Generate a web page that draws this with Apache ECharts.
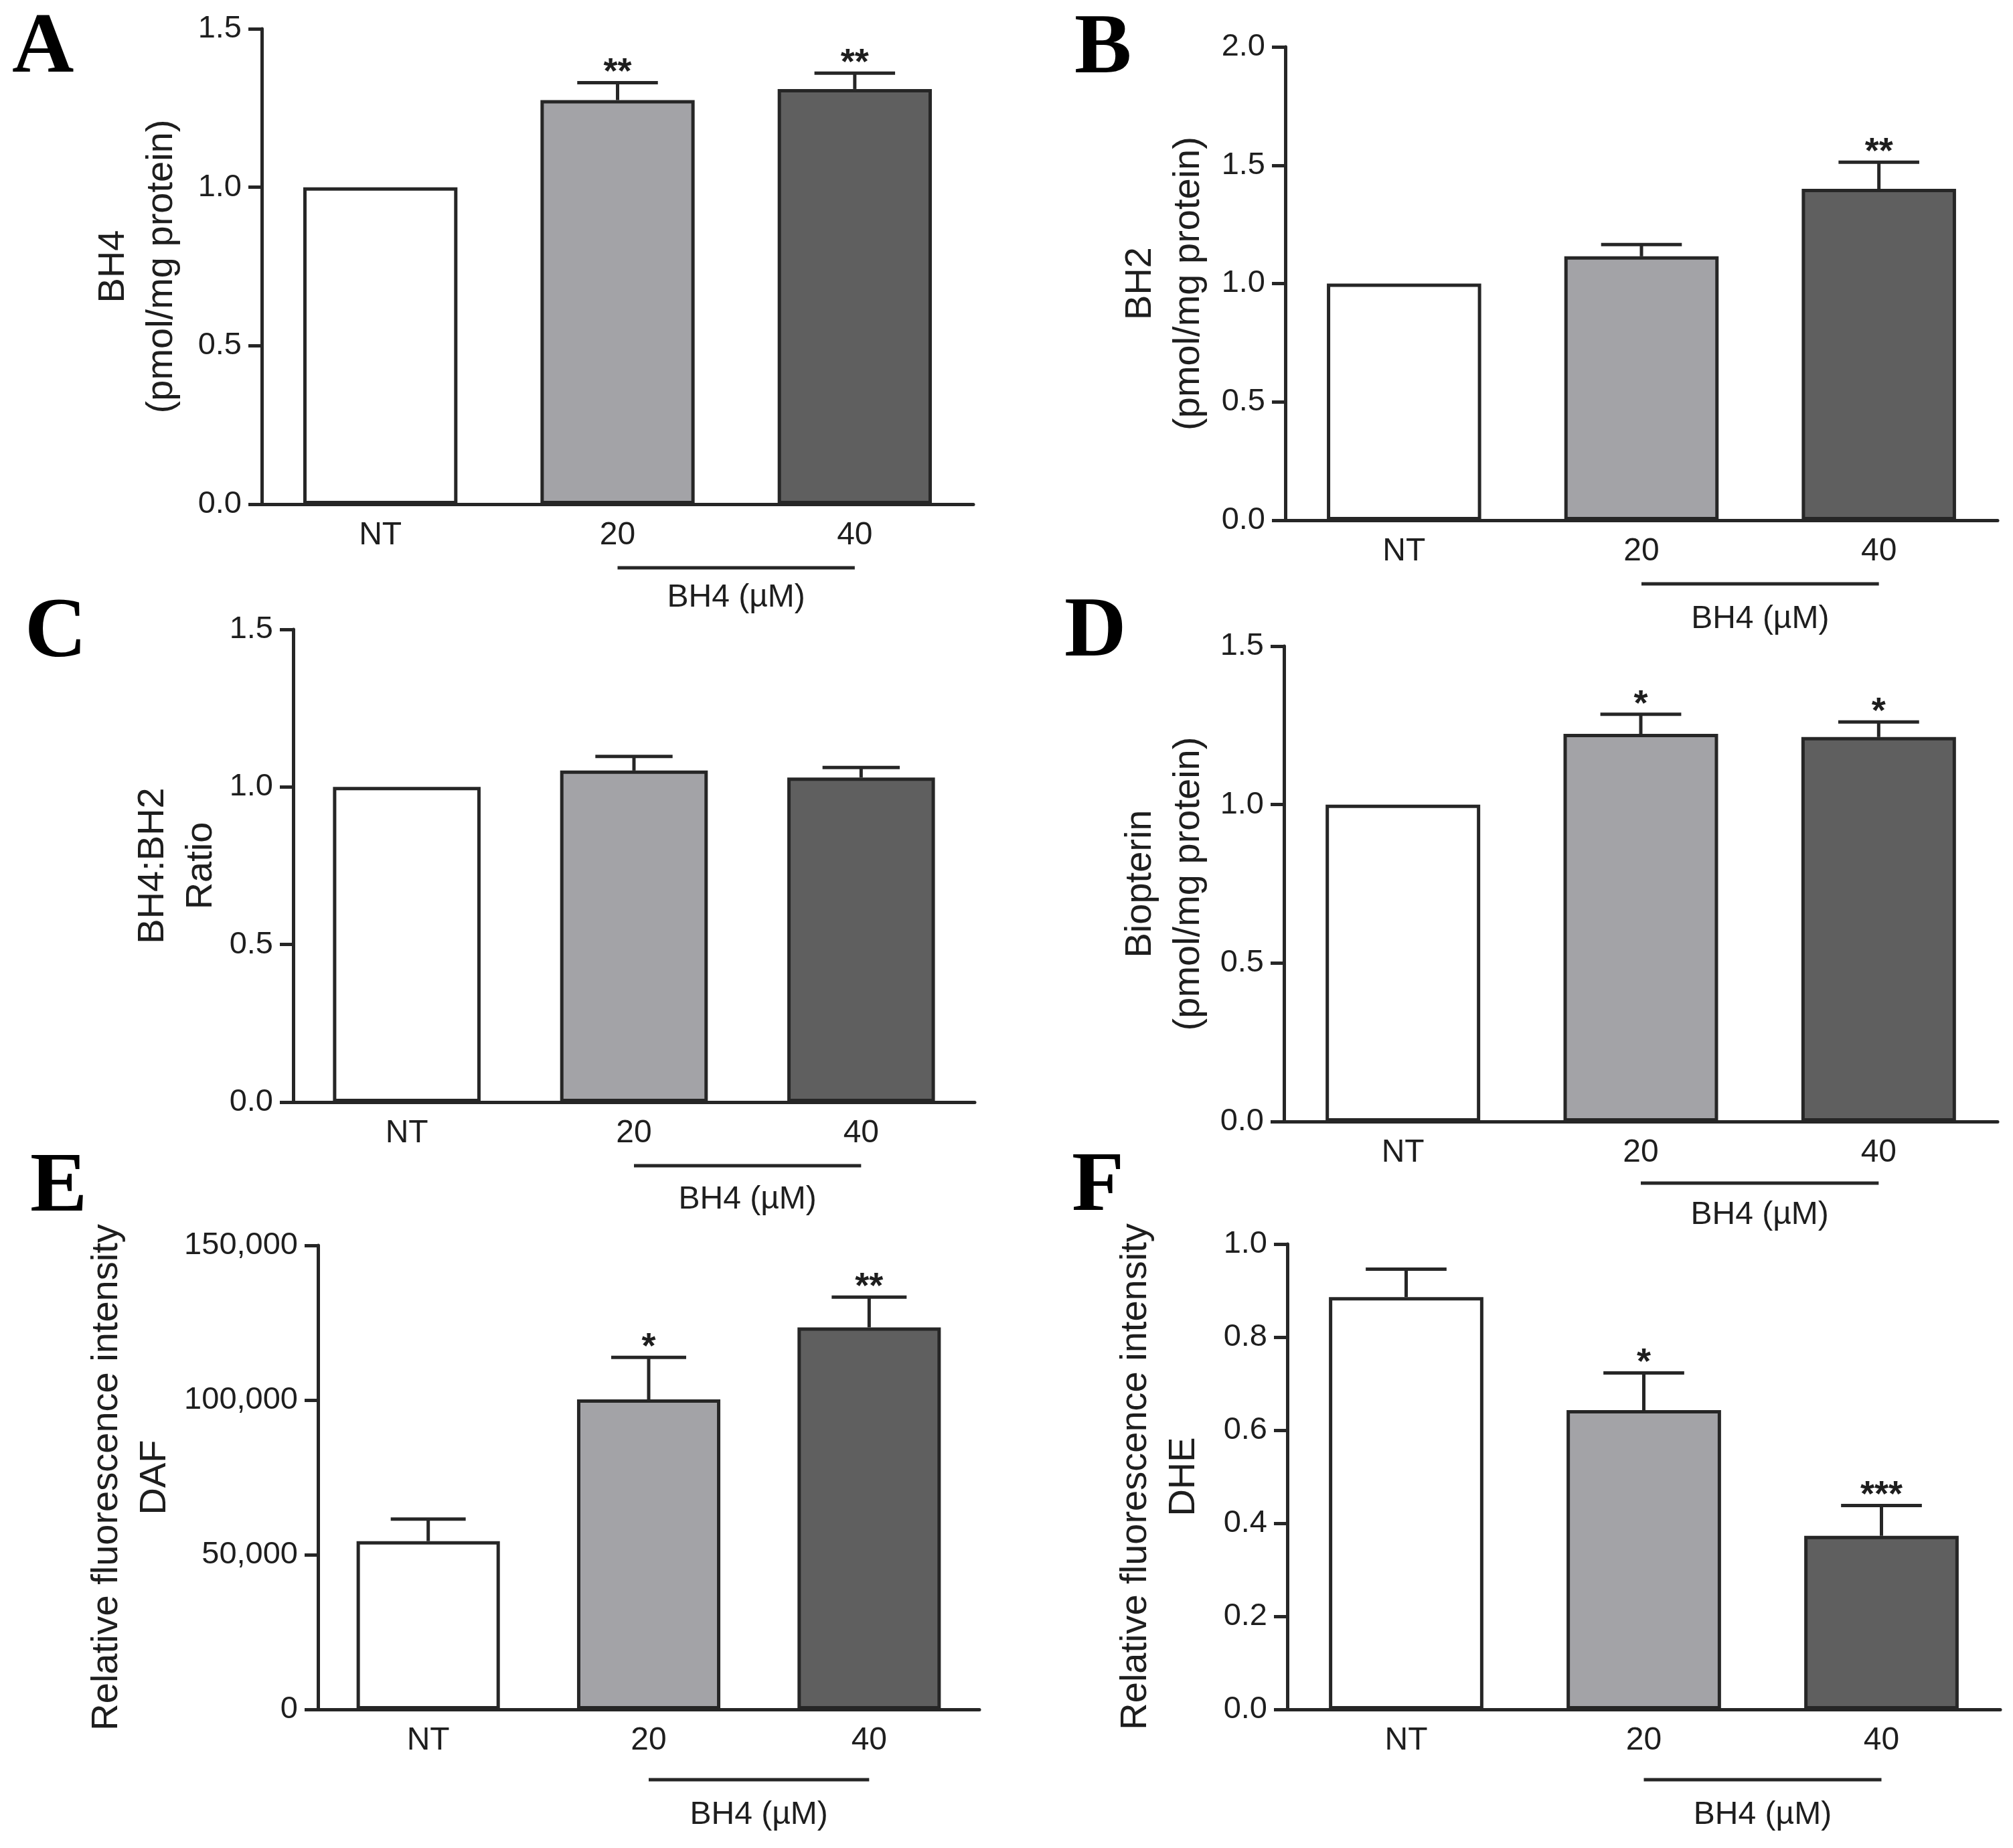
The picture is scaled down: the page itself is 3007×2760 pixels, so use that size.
<!DOCTYPE html>
<html><head><meta charset="utf-8">
<script src="https://cdn.jsdelivr.net/npm/echarts@6/dist/echarts.min.js"></script>
<style>html,body{margin:0;padding:0;background:#fff}#c{width:3007px;height:2760px}</style>
</head><body><div id="c"></div>
<script>
// ---- data ----
const categories = ['NT', '20', '40'];
const treatmentLabel = 'BH4 (µM)';

const bh4Values = [1.00, 1.275, 1.31];
const bh4Errors = [0, 0.055, 0.05];
const bh4Stars = ['', '**', '**'];

const bh2Values = [1.00, 1.115, 1.40];
const bh2Errors = [0, 0.05, 0.113];
const bh2Stars = ['', '', '**'];

const ratioValues = [1.00, 1.052, 1.030];
const ratioErrors = [0, 0.045, 0.032];
const ratioStars = ['', '', ''];

const biopterinValues = [1.00, 1.223, 1.213];
const biopterinErrors = [0, 0.062, 0.048];
const biopterinStars = ['', '*', '*'];

const dafValues = [54400, 100200, 123500];
const dafErrors = [7150, 13600, 9800];
const dafStars = ['', '*', '**'];

const dheValues = [0.886, 0.643, 0.373];
const dheErrors = [0.06, 0.08, 0.065];
const dheStars = ['', '*', '***'];

const barColors = ['#ffffff', '#a3a3a7', '#5f5f5f'];

// ---- layout ----
const FONT = 'Liberation Sans, Arial, sans-serif';
const INK = '#262626';
const TXT = '#1e1e1e';
const fmt1 = v => v.toFixed(1);
const fmtK = v => v.toLocaleString('en-US');

const panels = [
  {letter:'A', values:bh4Values, errors:bh4Errors, stars:bh4Stars, yName:'BH4\n(pmol/mg protein)', yMax:1.5, yInt:0.5, fmt:fmt1,
   grid:{left:391, top:43, width:1063, height:710}, nameGap:113, lx:18, lb:117, under:95, labelOff:140},
  {letter:'B', values:bh2Values, errors:bh2Errors, stars:bh2Stars, yName:'BH2\n(pmol/mg protein)', yMax:2.0, yInt:0.5, fmt:fmt1,
   grid:{left:1920, top:70, width:1064, height:707}, nameGap:108, lx:1605, lb:118, under:95, labelOff:148},
  {letter:'C', values:ratioValues, errors:ratioErrors, stars:ratioStars, yName:'BH4:BH2\nRatio', yMax:1.5, yInt:0.5, fmt:fmt1,
   grid:{left:438, top:940, width:1018, height:706}, nameGap:101, lx:37, lb:990, under:95, labelOff:146},
  {letter:'D', values:biopterinValues, errors:biopterinErrors, stars:biopterinStars, yName:'Biopterin\n(pmol/mg protein)', yMax:1.5, yInt:0.5, fmt:fmt1,
   grid:{left:1918, top:965, width:1066, height:710}, nameGap:106, lx:1590, lb:989, under:92, labelOff:140},
  {letter:'E', values:dafValues, errors:dafErrors, stars:dafStars, yName:'Relative fluorescence intensity\nDAF', yMax:150000, yInt:50000, fmt:fmtK,
   grid:{left:475, top:1860, width:988, height:693}, nameGap:207, lx:45, lb:1818, under:105, labelOff:158},
  {letter:'F', values:dheValues, errors:dheErrors, stars:dheStars, yName:'Relative fluorescence intensity\nDHE', yMax:1.0, yInt:0.2, fmt:fmt1,
   grid:{left:1923, top:1858, width:1065, height:695}, nameGap:118, lx:1601, lb:1817, under:105, labelOff:158}
];

function textStyle(extra){
  return Object.assign({fontFamily:FONT, fill:TXT, align:'center', verticalAlign:'middle', textAlign:'center', textVerticalAlign:'middle'}, extra);
}

function makeErrRender(p){
  return function(params, api){
    const k = params.dataIndex;
    const v = api.value(1), e = api.value(2);
    const base = api.coord([k, v]);
    const tip = api.coord([k, v + e]);
    const bw = api.size([1, 0])[0];
    const half = bw * 0.17;
    const ls = {stroke:INK, lineWidth:5};
    const children = [];
    if (e > 0) {
      children.push({type:'line', shape:{x1:base[0], y1:base[1], x2:tip[0], y2:tip[1]}, style:ls});
      children.push({type:'line', shape:{x1:tip[0]-half, y1:tip[1], x2:tip[0]+half, y2:tip[1]}, style:ls});
    }
    const s = p.stars[k];
    if (s) {
      children.push({type:'text', x:tip[0], y:tip[1]-14, style:textStyle({text:s, fontSize:54, fontWeight:'bold'})});
    }
    return {type:'group', children};
  };
}

function makeBracketRender(p){
  return function(params, api){
    const a = api.coord([1, 0]);
    const b = api.coord([2, 0]);
    const y = a[1] + p.under;
    return {type:'group', children:[
      {type:'line', shape:{x1:a[0], y1:y, x2:b[0], y2:y}, style:{stroke:INK, lineWidth:5}},
      {type:'text', x:(a[0]+b[0])/2, y:a[1]+p.labelOff, style:textStyle({text:treatmentLabel, fontSize:48})}
    ]};
  };
}

const grid = [], xAxis = [], yAxis = [], series = [], graphic = [];
panels.forEach((p, i) => {
  grid.push(Object.assign({containLabel:false}, p.grid));
  xAxis.push({
    type:'category', gridIndex:i, data:categories,
    axisLine:{lineStyle:{color:INK, width:5}},
    axisTick:{alignWithLabel:true, length:22, lineStyle:{color:INK, width:5}},
    axisLabel:{fontSize:48, fontFamily:FONT, color:TXT, margin:23, lineHeight:48},
    splitLine:{show:false}
  });
  yAxis.push({
    type:'value', gridIndex:i, min:0, max:p.yMax, interval:p.yInt,
    name:p.yName, nameLocation:'middle', nameRotate:90, nameGap:p.nameGap,
    nameTextStyle:{fontSize:56, lineHeight:72, fontFamily:FONT, color:TXT, align:'center'},
    axisLine:{show:true, lineStyle:{color:INK, width:5}},
    axisTick:{show:true, length:20, lineStyle:{color:INK, width:5}},
    axisLabel:{fontSize:47, fontFamily:FONT, color:TXT, margin:30, formatter:p.fmt},
    splitLine:{show:false}
  });
  series.push({
    type:'bar', xAxisIndex:i, yAxisIndex:i, barWidth:'65%', silent:true,
    data:p.values.map((v, k) => ({value:v, itemStyle:{color:barColors[k]}})),
    itemStyle:{borderColor:INK, borderWidth:5}
  });
  series.push({
    type:'custom', xAxisIndex:i, yAxisIndex:i, silent:true, z:5,
    data:p.values.map((v, k) => [k, v, p.errors[k]]),
    renderItem:makeErrRender(p)
  });
  series.push({
    type:'custom', xAxisIndex:i, yAxisIndex:i, silent:true, z:5,
    data:[[1, 0]],
    renderItem:makeBracketRender(p)
  });
  graphic.push({
    type:'text', x:p.lx, y:p.lb - 43,
    style:{text:p.letter, fontSize:128, fontWeight:'bold', fontFamily:'Liberation Serif, Times New Roman, serif', fill:'#000',
      align:'left', verticalAlign:'middle', textAlign:'left', textVerticalAlign:'middle'}
  });
});

const chart = echarts.init(document.getElementById('c'), null, {renderer:'canvas', width:3007, height:2760});
chart.setOption({
  animation:false,
  backgroundColor:'#ffffff',
  grid, xAxis, yAxis, series, graphic
});
</script>
</body></html>
